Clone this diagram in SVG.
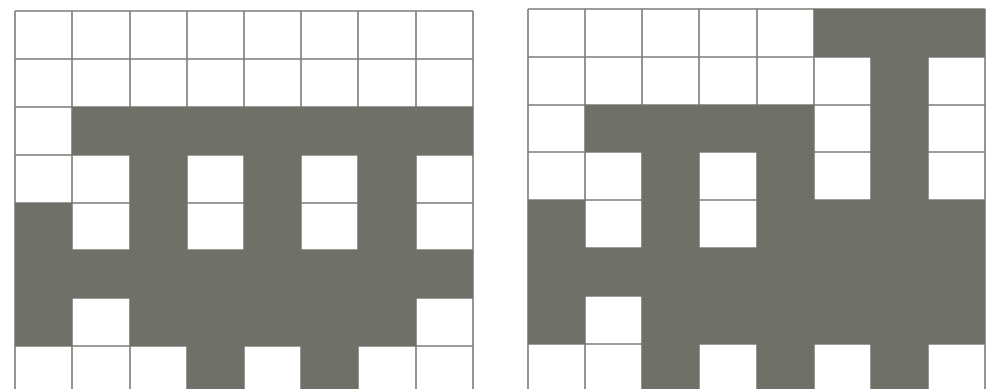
<svg xmlns="http://www.w3.org/2000/svg" width="986" height="389" viewBox="0 0 986 389">
<style>
.grid{stroke:#7c7d78;stroke-width:1.6;fill:none}
.dark{fill:#6f7169;stroke:none}
</style>
<rect width="986" height="389" fill="#ffffff"/>
<g id="left-grid">
<path class="grid" d="M15 11V389M72 11V389M130 11V389M187 11V389M244 11V389M301 11V389M358 11V389M416 11V389M473 11V389M15 11H473M15 59H473M15 107H473M15 155H473M15 203H473M15 250H473M15 298H473M15 346H473"/>
<path class="dark" d="M72 107H473V155H72ZM130 155H187V250H130ZM244 155H301V250H244ZM358 155H416V250H358ZM15 203H72V250H15ZM15 250H473V298H15ZM15 298H72V346H15ZM130 298H416V346H130ZM187 346H244V394H187ZM301 346H358V394H301Z"/>
</g>
<g id="right-grid">
<path class="grid" d="M528 9V389M585 9V389M642 9V389M699 9V389M757 9V389M814 9V389M871 9V389M928 9V389M985 9V389M528 9H985M528 57H985M528 105H985M528 152H985M528 200H985M528 248H985M528 296H985M528 344H985"/>
<path class="dark" d="M814 9H985V57H814ZM871 57H928V200H871ZM585 105H814V152H585ZM642 152H699V248H642ZM757 152H814V248H757ZM528 200H585V248H528ZM757 200H985V248H757ZM528 248H985V296H528ZM528 296H585V344H528ZM642 296H985V344H642ZM642 344H699V391H642ZM757 344H814V391H757ZM871 344H928V391H871Z"/>
</g>
</svg>
